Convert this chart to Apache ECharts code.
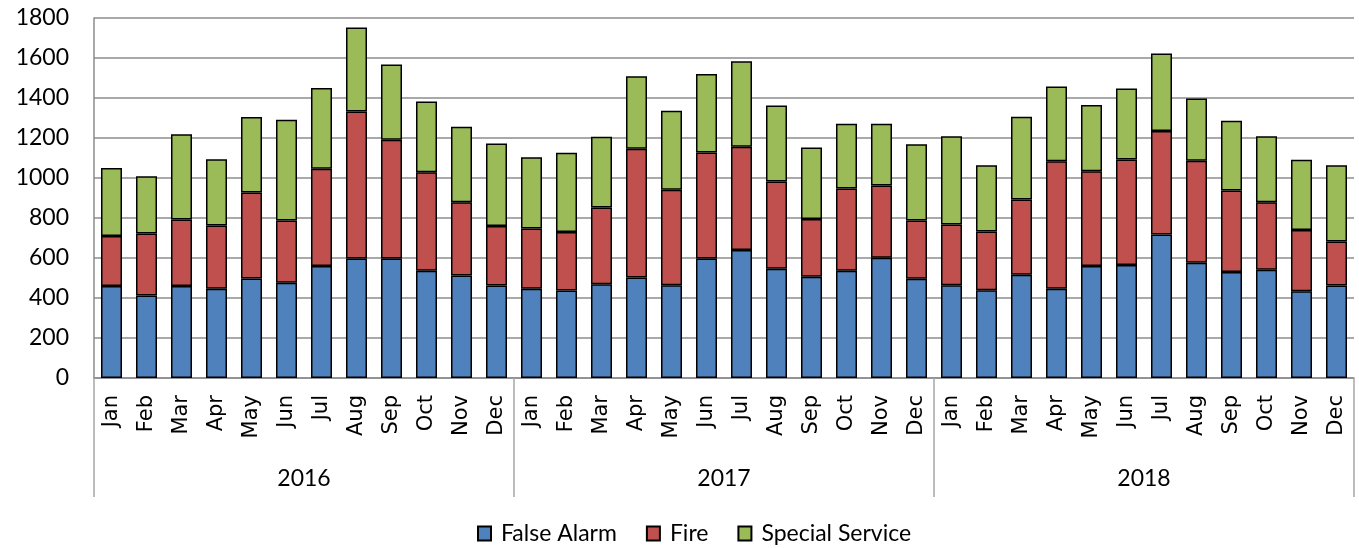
<!DOCTYPE html>
<html>
<head>
<meta charset="utf-8">
<title>Incidents by month</title>
<script src="https://cdn.jsdelivr.net/npm/echarts@6/dist/echarts.min.js"></script>
<style>
  html, body { margin: 0; padding: 0; background: #fff; }
  #chart { width: 1359px; height: 548px; }
</style>
</head>
<body>
<div id="chart"></div>
<script>
const months = ['Jan', 'Feb', 'Mar', 'Apr', 'May', 'Jun', 'Jul', 'Aug', 'Sep', 'Oct', 'Nov', 'Dec']
const years = ['2016', '2017', '2018']

// values per month, 2016 -> 2018
const falseAlarm = [
  460, 413, 460, 446, 498, 476, 560, 598, 598, 536, 513, 463,
  446, 438, 469, 503, 464, 598, 640, 546, 506, 536, 601, 496,
  464, 439, 516, 446, 560, 565, 717, 576, 530, 541, 434, 463
]
const fire = [
  250, 310, 332, 316, 429, 312, 486, 735, 593, 493, 366, 297,
  302, 292, 383, 643, 477, 530, 516, 436, 289, 411, 361, 292,
  304, 293, 376, 638, 474, 528, 518, 510, 407, 338, 306, 219
]
const specialService = [
  340, 286, 427, 332, 378, 503, 404, 419, 376, 354, 377, 413,
  356, 396, 354, 363, 395, 392, 428, 381, 358, 324, 309, 381,
  441, 332, 414, 373, 331, 355, 387, 311, 349, 330, 351, 382
]

const yMax = 1800
const yStep = 200

const monthCats = []
years.forEach(() => {
  months.forEach(m => monthCats.push(m))
})

const chart = echarts.init(document.getElementById('chart'))

const gridColor = '#8c8c8c'
const calibriLike = 'Lato'

function barSeries(name, data, color) {
  return {
    name: name,
    type: 'bar',
    stack: 'total',
    xAxisIndex: 0,
    barWidth: 21,
    data: data,
    itemStyle: {
      color: color,
      borderColor: '#000',
      borderWidth: 1.5
    },
    animation: false
  }
}

chart.setOption({
  animation: false,
  grid: {
    left: 94,
    right: 5,
    top: 18,
    bottom: 170
  },
  legend: {
    left: 472,
    top: 517,
    icon: 'rect',
    itemWidth: 13,
    itemHeight: 14,
    itemGap: 29,
    textStyle: {
      fontFamily: calibriLike,
      fontSize: 23,
      color: '#000',
      padding: [0, 0, 0, 5]
    },
    data: ['False Alarm', 'Fire', 'Special Service']
  },
  xAxis: [
    {
      type: 'category',
      data: monthCats,
      position: 'bottom',
      axisLine: { show: true, lineStyle: { color: gridColor, width: 1.5 } },
      axisTick: { show: false },
      axisLabel: {
        interval: 0,
        rotate: 90,
        margin: 17,
        fontFamily: 'DejaVu Sans',
        fontSize: 21,
        color: '#000'
      }
    },
    {
      type: 'category',
      data: years,
      position: 'bottom',
      axisLine: { show: false },
      axisTick: {
        show: true,
        length: 119,
        lineStyle: { color: '#a6a6a6', width: 1.5 }
      },
      axisLabel: {
        margin: 89,
        fontFamily: calibriLike,
        fontSize: 23,
        color: '#000'
      }
    }
  ],
  yAxis: {
    type: 'value',
    min: 0,
    max: yMax,
    interval: yStep,
    axisLine: { show: true, lineStyle: { color: gridColor, width: 1.5 } },
    axisTick: { show: false },
    splitLine: { lineStyle: { color: gridColor, width: 1.5 } },
    axisLabel: {
      margin: 25,
      fontFamily: calibriLike,
      fontSize: 23,
      color: '#000',
      formatter: v => String(v)
    }
  },
  series: [
    barSeries('False Alarm', falseAlarm, '#4f81bd'),
    barSeries('Fire', fire, '#c0504d'),
    barSeries('Special Service', specialService, '#9bbb59')
  ]
})
</script>
</body>
</html>
